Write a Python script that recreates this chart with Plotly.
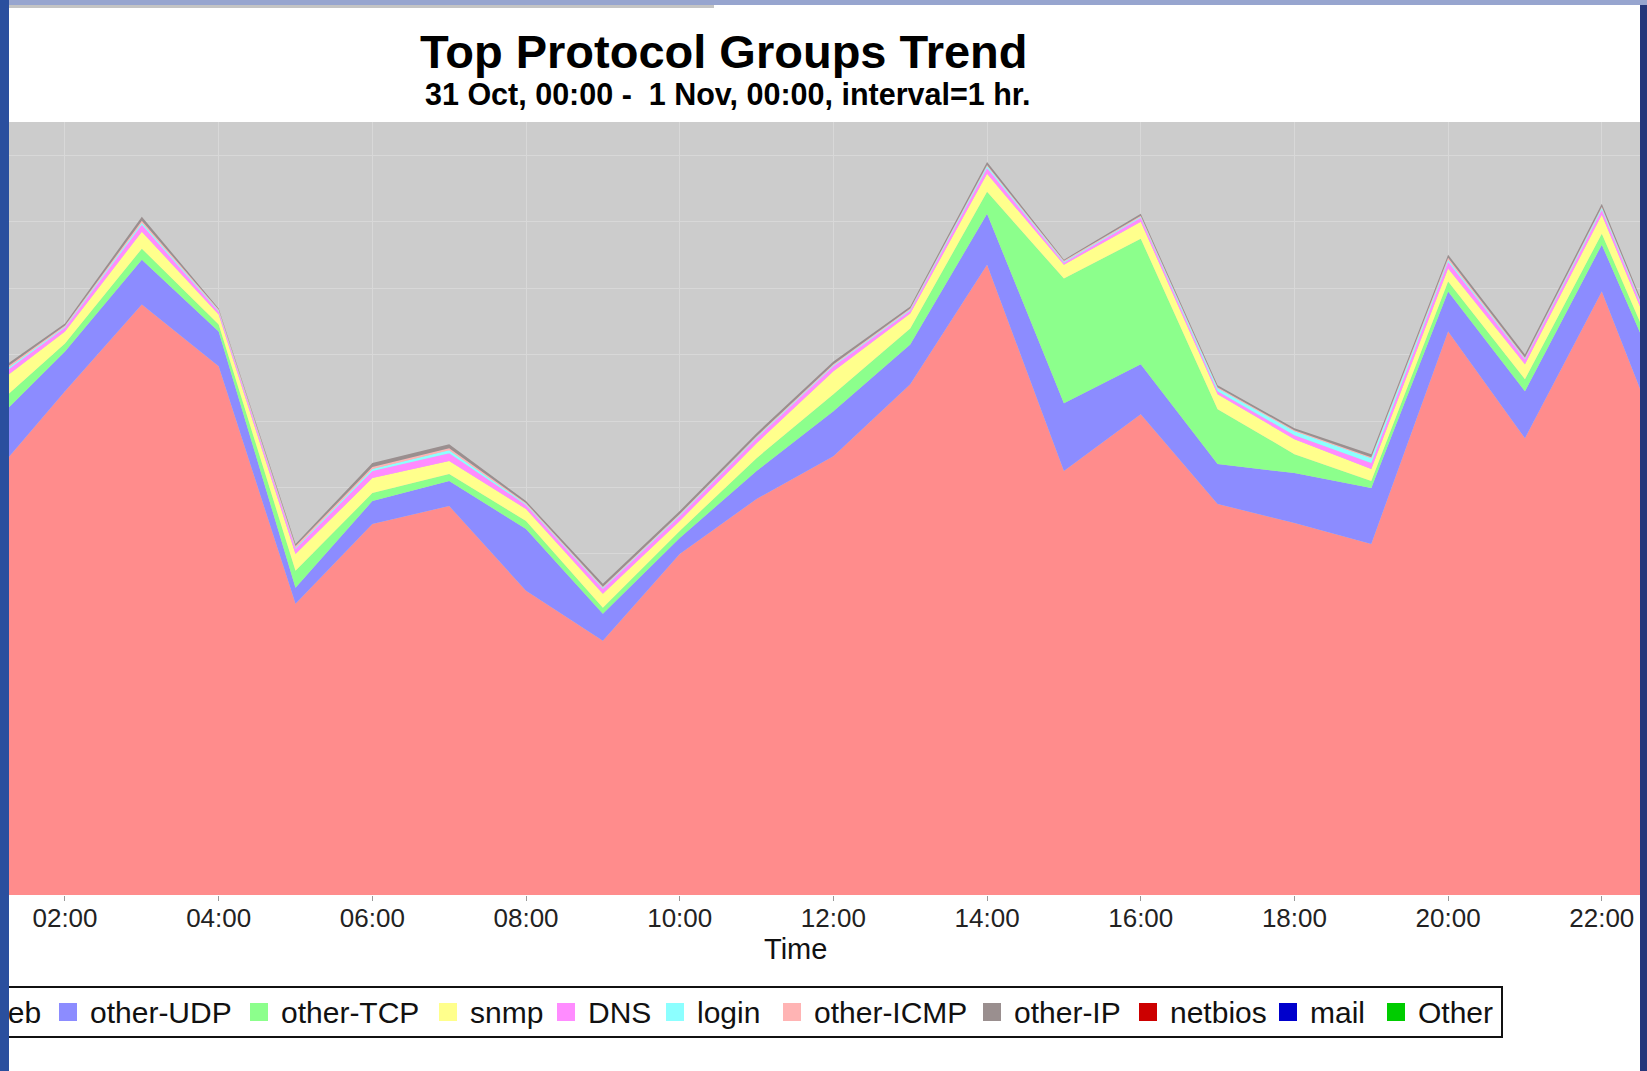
import plotly.graph_objects as go

# ---------------- data ----------------
times = ["2008-10-31 01:00", "2008-10-31 02:00", "2008-10-31 03:00", "2008-10-31 04:00",
         "2008-10-31 05:00", "2008-10-31 06:00", "2008-10-31 07:00", "2008-10-31 08:00",
         "2008-10-31 09:00", "2008-10-31 10:00", "2008-10-31 11:00", "2008-10-31 12:00",
         "2008-10-31 13:00", "2008-10-31 14:00", "2008-10-31 15:00", "2008-10-31 16:00",
         "2008-10-31 17:00", "2008-10-31 18:00", "2008-10-31 19:00", "2008-10-31 20:00",
         "2008-10-31 21:00", "2008-10-31 22:00", "2008-10-31 23:00"]

web = [4.15, 5.05, 5.92, 5.30, 2.92, 3.72, 3.90, 3.05, 2.55, 3.42, 3.97, 4.40,
       5.12, 6.32, 4.25, 4.82, 3.92, 3.73, 3.52, 5.65, 4.58, 6.05, 4.09]
other_udp = [0.53, 0.40, 0.45, 0.35, 0.16, 0.23, 0.25, 0.62, 0.27, 0.16, 0.28, 0.45,
             0.40, 0.51, 0.68, 0.50, 0.40, 0.50, 0.56, 0.40, 0.47, 0.47, 0.66]
other_tcp = [0.16, 0.08, 0.11, 0.07, 0.17, 0.08, 0.07, 0.08, 0.06, 0.07, 0.13, 0.17,
             0.16, 0.22, 1.25, 1.26, 0.55, 0.19, 0.07, 0.10, 0.12, 0.11, 0.10]
snmp = [0.22, 0.12, 0.17, 0.10, 0.17, 0.15, 0.13, 0.12, 0.14, 0.10, 0.15, 0.23,
        0.15, 0.18, 0.14, 0.17, 0.15, 0.15, 0.12, 0.13, 0.15, 0.19, 0.12]
dns = [0.06, 0.04, 0.07, 0.03, 0.05, 0.07, 0.08, 0.04, 0.05, 0.05, 0.05, 0.05,
       0.03, 0.06, 0.02, 0.04, 0.03, 0.04, 0.06, 0.07, 0.05, 0.05, 0.04]
login = [0.02, 0.01, 0.02, 0.01, 0.01, 0.02, 0.03, 0.01, 0.01, 0.01, 0.01, 0.01,
         0.01, 0.02, 0.01, 0.01, 0.03, 0.04, 0.05, 0.02, 0.01, 0.02, 0.01]
other_icmp = [0.02, 0.01, 0.02, 0.01, 0.02, 0.02, 0.02, 0.01, 0.01, 0.01, 0.01, 0.01,
              0.01, 0.01, 0.01, 0.01, 0.01, 0.01, 0.01, 0.02, 0.01, 0.01, 0.01]
other_ip = [0.03, 0.02, 0.04, 0.01, 0.02, 0.04, 0.04, 0.02, 0.03, 0.03, 0.03, 0.03,
            0.02, 0.03, 0.01, 0.02, 0.02, 0.02, 0.03, 0.03, 0.03, 0.03, 0.02]
netbios = [0] * 23
mail = [0] * 23
other = [0] * 23

series_names = ["Web", "other-UDP", "other-TCP", "snmp", "DNS", "login",
                "other-ICMP", "other-IP", "netbios", "mail", "Other"]
series_values = [web, other_udp, other_tcp, snmp, dns, login,
                 other_icmp, other_ip, netbios, mail, other]
series_colors = ["#ff8c8c", "#8c8cff", "#8cff8c", "#ffff8c", "#ff8cff", "#8cffff",
                 "#ffb4b4", "#9a8f8f", "#cc0000", "#0000cc", "#00cc00"]

title_text = "Top Protocol Groups Trend"
subtitle_text = "31 Oct, 00:00 -  1 Nov, 00:00, interval=1 hr."
x_title = "Time"

# ---------------- figure ----------------
W, H = 1647, 1071
ML, MR, MT, MB = 8, 7, 122, 176
PW = W - ML - MR
PH = H - MT - MB


def px_x(p):
    return (p - ML) / PW


def px_y(p):
    return (H - MB - p) / PH


FONT = "Liberation Sans, Arial, Helvetica, sans-serif"

fig = go.Figure()
for name, vals, col in zip(series_names, series_values, series_colors):
    fig.add_trace(go.Scatter(
        x=times, y=vals, name=name, mode="lines", stackgroup="one",
        line=dict(width=0, color=col), fillcolor=col, showlegend=False,
    ))

fig.update_layout(
    width=W, height=H,
    margin=dict(l=ML, r=MR, t=MT, b=MB, pad=0),
    paper_bgcolor="white", plot_bgcolor="#cccccc",
    font=dict(family=FONT, color="#111111"),
    xaxis=dict(
        type="date", range=["2008-10-31 01:15:30", "2008-10-31 22:29:50"],
        tick0="2008-10-31 00:00", dtick=7200000, tickformat="%H:%M",
        tickfont=dict(size=26, family=FONT, color="#222222"),
        ticks="outside", ticklen=5, tickcolor="#999999",
        ticklabelstandoff=-5,
        showgrid=True, gridcolor="#d8d8d8", gridwidth=1.2,
        showline=False, zeroline=False,
    ),
    yaxis=dict(
        range=[0, 7.75], showticklabels=False, ticks="",
        tick0=0.09, dtick=0.666,
        showgrid=True, gridcolor="#d8d8d8", gridwidth=1.2,
        showline=False, zeroline=False,
    ),
)

annotations = [
    dict(text="<b>%s</b>" % title_text, x=px_x(724), y=px_y(51), xref="paper", yref="paper",
         xanchor="center", yanchor="middle", showarrow=False,
         font=dict(size=47, family=FONT, color="black")),
    dict(text="<b>%s</b>" % subtitle_text, x=px_x(728), y=px_y(94), xref="paper", yref="paper",
         xanchor="center", yanchor="middle", showarrow=False,
         font=dict(size=30.5, family=FONT, color="black")),
    dict(text=x_title, x=px_x(795), y=px_y(949), xref="paper", yref="paper",
         xanchor="center", yanchor="middle", showarrow=False,
         font=dict(size=29, family=FONT, color="#111111")),
]

shapes = []
# custom legend (box, swatches, labels)
legend_swatch_left = [-51, 59, 250, 439, 557, 666, 783, 983, 1139, 1279, 1387]
shapes.append(dict(type="rect", xref="paper", yref="paper",
                   x0=px_x(8), x1=px_x(1502), y0=px_y(1037), y1=px_y(987),
                   line=dict(color="#111111", width=2), fillcolor="white"))
for name, col, sx in zip(series_names, series_colors, legend_swatch_left):
    shapes.append(dict(type="rect", xref="paper", yref="paper",
                       x0=px_x(sx), x1=px_x(sx + 18), y0=px_y(1021), y1=px_y(1003),
                       line=dict(width=0), fillcolor=col))
    annotations.append(dict(text=name, x=px_x(sx + 29), y=px_y(1012), xref="paper", yref="paper",
                            xanchor="left", yanchor="middle", showarrow=False,
                            font=dict(size=30, family=FONT, color="#111111")))

# window frame around the screenshot
shapes += [
    dict(type="rect", xref="paper", yref="paper", x0=px_x(1640), x1=px_x(W), y0=px_y(H), y1=px_y(0),
         line=dict(width=0), fillcolor="#25367a", layer="above"),
    dict(type="rect", xref="paper", yref="paper", x0=px_x(0), x1=px_x(W), y0=px_y(5), y1=px_y(0),
         line=dict(width=0), fillcolor="#97a5cf", layer="above"),
    dict(type="rect", xref="paper", yref="paper", x0=px_x(8), x1=px_x(714), y0=px_y(8), y1=px_y(5),
         line=dict(width=0), fillcolor="#c4c4c4", layer="above"),
]
# left frame edge drawn as an (empty) annotation box so it sits above the legend text
annotations.append(dict(text=" ", x=px_x(0), y=px_y(0), xref="paper", yref="paper",
                        xanchor="left", yanchor="top", showarrow=False,
                        width=9, height=H, borderpad=0, borderwidth=0,
                        bgcolor="#2a4f9e", font=dict(size=2)))

fig.update_layout(annotations=annotations, shapes=shapes)
fig.write_html(
    "out.html",
    config={"displayModeBar": False},
    post_script="document.body.style.margin='0';document.body.style.overflow='hidden';",
)
